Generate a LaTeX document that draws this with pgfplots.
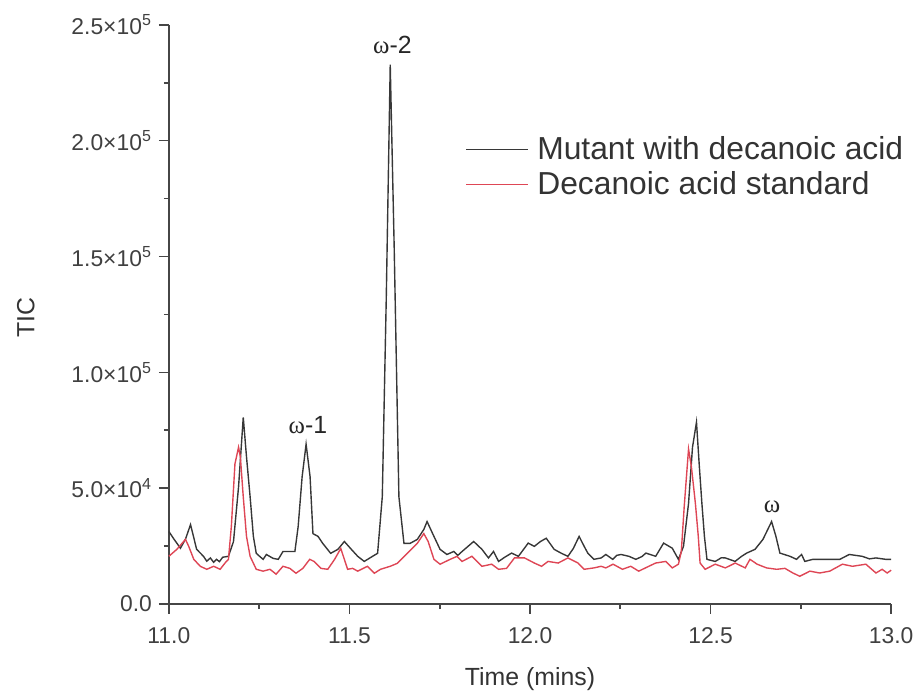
\documentclass[border=0pt]{standalone}
\usepackage{pgfplots}
\pgfplotsset{compat=1.18}
\usepackage{fontspec}
\setmainfont{Liberation Sans}
\newfontfamily\grk{Liberation Serif}
\definecolor{cblack}{RGB}{55,55,55}
\definecolor{cred}{RGB}{222,70,85}
\definecolor{caxis}{RGB}{70,70,70}
\begin{document}
\begin{tikzpicture}
\begin{axis}[
  scale only axis, width=363.5pt, height=291.5pt,
  xmin=11, xmax=13, ymin=0, ymax=250000,
  clip=false,
  axis x line*=bottom, axis y line*=left,
  axis line style={caxis, line width=0.8pt, -},
  tick align=outside,
  major tick length=5pt, minor tick length=2.5pt,
  tick style={caxis, line width=0.8pt},
  xtick={11,11.5,12,12.5,13}, minor x tick num=1,
  ytick={0,50000,100000,150000,200000,250000}, minor y tick num=1,
  scaled ticks=false,
  yticklabels={0.0, 5.0×10\textsuperscript{4}, 1.0×10\textsuperscript{5}, 1.5×10\textsuperscript{5}, 2.0×10\textsuperscript{5}, 2.5×10\textsuperscript{5}},
  xticklabel style={/pgf/number format/.cd, fixed, fixed zerofill, precision=1, assume math mode=true, /tikz/.cd, yshift=-3.5pt},
  ticklabel style={font=\fontsize{11.5}{13}\selectfont, color=black!75},
  xlabel={Time (mins)}, ylabel={TIC},
  label style={font=\fontsize{12.5}{14}\selectfont, color=black!80},
  xlabel style={at={(axis description cs:0.5,-0.130)}, anchor=center},
  ylabel style={at={(axis description cs:-0.198,0.494)}, anchor=center},
  legend image code/.code={\draw[#1, line width=0.7pt] (0pt,0pt) -- (31pt,0pt);},
  legend style={at={(0.410,0.815)}, anchor=north west, draw=none, fill=none, inner sep=0pt,
    font=\fontsize{16}{18}\selectfont, text=black!80, row sep=0.5pt,
    nodes={inner xsep=4.5pt}},
  legend cell align=left,
]
\addplot[cblack, line width=0.7pt] coordinates {
(11.000,31300) (11.012,28500) (11.032,24100) (11.046,28000) (11.060,34300) (11.077,23600) (11.096,20600)
(11.105,18500) (11.115,19900) (11.124,18000) (11.132,19300) (11.140,18300) (11.149,20200) (11.165,20600)
(11.179,27000) (11.193,50600) (11.206,80600) (11.215,63500) (11.225,46300) (11.234,29200) (11.242,21900)
(11.252,20500) (11.261,19300) (11.270,21400) (11.280,20500) (11.289,19700) (11.303,19300) (11.316,22700)
(11.330,22700) (11.349,22700) (11.358,33400) (11.369,54900) (11.380,69000) (11.391,55000) (11.399,30400)
(11.413,29200) (11.426,26200) (11.448,21900) (11.468,23600) (11.486,27000) (11.503,24000) (11.523,20600)
(11.541,18400) (11.564,20600) (11.578,21900) (11.591,46300) (11.602,132000) (11.613,232800) (11.624,153500)
(11.637,46300) (11.651,26200) (11.668,26200) (11.688,27900) (11.706,32200) (11.715,35600) (11.734,29200)
(11.751,23600) (11.770,21400) (11.789,22700) (11.800,21000) (11.812,22700) (11.844,27000) (11.867,23600)
(11.885,19900) (11.899,22700) (11.913,18400) (11.930,20200) (11.949,22000) (11.968,20600) (11.995,26300)
(12.012,24900) (12.029,27000) (12.045,28400) (12.067,23600) (12.087,21900) (12.105,20600) (12.120,24000)
(12.136,29200) (12.150,24900) (12.160,22000) (12.177,19300) (12.197,19900) (12.210,21400) (12.229,19300)
(12.240,21000) (12.252,21400) (12.274,20600) (12.293,19300) (12.310,20500) (12.321,22000) (12.348,20600)
(12.370,26300) (12.394,24100) (12.411,19300) (12.425,24900) (12.439,43400) (12.450,67700) (12.461,78500)
(12.469,59200) (12.476,43400) (12.483,29200) (12.490,19300) (12.513,18400) (12.530,20000) (12.541,19900)
(12.568,18400) (12.585,20500) (12.600,22000) (12.623,23600) (12.645,27900) (12.669,35600) (12.681,29200)
(12.692,22000) (12.720,20600) (12.738,19300) (12.752,21400) (12.761,18400) (12.783,19300) (12.858,19300)
(12.884,21400) (12.920,20600) (12.940,19500) (12.958,19900) (12.985,19300) (13.000,19300)
};
\addlegendentry{Mutant with decanoic acid}
\addplot[cred, line width=0.7pt] coordinates {
(11.000,20600) (11.022,23600) (11.046,27900) (11.055,24900) (11.069,19300) (11.087,16300) (11.105,15000)
(11.124,16300) (11.142,15000) (11.157,18000) (11.165,19300) (11.173,33400) (11.183,60500) (11.193,67700)
(11.198,63500) (11.206,46300) (11.215,29200) (11.225,20600) (11.242,15000) (11.261,14200) (11.280,15000)
(11.297,12900) (11.316,16300) (11.335,15400) (11.352,13300) (11.371,15400) (11.390,19300) (11.402,18400)
(11.421,15400) (11.440,15000) (11.459,19300) (11.476,24000) (11.495,15000) (11.509,15400) (11.523,14200)
(11.550,16300) (11.569,13300) (11.586,15000) (11.613,16300) (11.633,17600) (11.660,21900) (11.688,26200)
(11.706,30400) (11.718,27000) (11.734,19300) (11.751,17200) (11.779,19300) (11.798,20600) (11.812,18400)
(11.839,20600) (11.867,16300) (11.894,17200) (11.913,15000) (11.935,15400) (11.957,19900) (11.985,19900)
(12.012,17700) (12.032,16300) (12.050,18400) (12.078,17700) (12.105,19900) (12.133,17700) (12.150,15000)
(12.177,15600) (12.197,16300) (12.210,15600) (12.230,17200) (12.256,15000) (12.279,16300) (12.301,14200)
(12.329,16300) (12.348,17700) (12.376,18400) (12.394,15600) (12.411,17200) (12.419,22700) (12.427,42000)
(12.439,66900) (12.447,59200) (12.458,43400) (12.466,29200) (12.471,17700) (12.485,15000) (12.513,17200)
(12.541,15600) (12.568,17700) (12.596,15600) (12.609,19300) (12.629,17200) (12.655,15600) (12.683,15000)
(12.706,15400) (12.728,13400) (12.747,12000) (12.775,14200) (12.802,13400) (12.830,14200) (12.865,17200)
(12.893,16300) (12.930,17200) (12.958,13400) (12.975,15000) (12.989,13400) (13.000,14600)
};
\addlegendentry{Decanoic acid standard}
\node[font=\fontsize{12.5}{14}\selectfont, text=black!85] at (axis cs:11.619,241400) {{\grk ω}-2};
\node[font=\fontsize{12.5}{14}\selectfont, text=black!85] at (axis cs:11.385,77200) {{\grk ω}-1};
\node[font=\fontsize{12.5}{14}\selectfont, text=black!85] at (axis cs:12.670,42000) {{\grk ω}};
\path (rel axis cs:-0.2338,-0.1578) rectangle (rel axis cs:1.0316,1.0429);
\end{axis}
\end{tikzpicture}
\end{document}
